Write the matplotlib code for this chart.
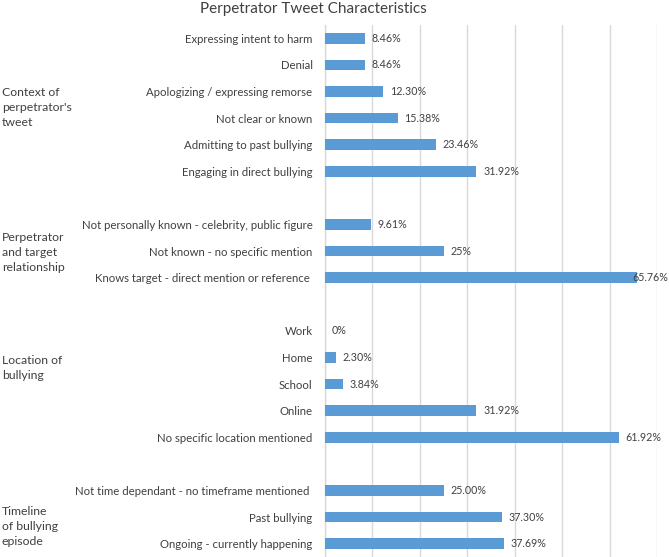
import matplotlib
matplotlib.use("Agg")
import matplotlib.pyplot as plt
import matplotlib.transforms as mtransforms

# ---- data ----
context_labels = ["Expressing intent to harm", "Denial", "Apologizing / expressing remorse",
                  "Not clear or known", "Admitting to past bullying", "Engaging in direct bullying"]
context_values = [8.46, 8.46, 12.30, 15.38, 23.46, 31.92]
context_text = ["8.46%", "8.46%", "12.30%", "15.38%", "23.46%", "31.92%"]

relation_labels = ["Not personally known - celebrity, public figure",
                   "Not known - no specific mention",
                   "Knows target - direct mention or reference "]
relation_values = [9.61, 25.0, 65.76]
relation_text = ["9.61%", "25%", "65.76%"]

location_labels = ["Work", "Home", "School", "Online", "No specific location mentioned"]
location_values = [0.0, 2.30, 3.84, 31.92, 61.92]
location_text = ["0%", "2.30%", "3.84%", "31.92%", "61.92%"]

timeline_labels = ["Not time dependant - no timeframe mentioned ", "Past bullying",
                   "Ongoing - currently happening"]
timeline_values = [25.00, 37.30, 37.69]
timeline_text = ["25.00%", "37.30%", "37.69%"]

group_names = ["Context of\nperpetrator's\ntweet",
               "Perpetrator\nand target\nrelationship",
               "Location of\nbullying",
               "Timeline\nof bullying\nepisode"]

groups = [
    (context_labels, context_values, context_text),
    (relation_labels, relation_values, relation_text),
    (location_labels, location_values, location_text),
    (timeline_labels, timeline_values, timeline_text),
]

BAR_COLOR = "#5B9BD5"
TEXT_COLOR = "#404040"
GRID_COLOR = "#D9D9D9"
FONT = ["Lato", "DejaVu Sans"]

plt.rcParams["font.family"] = FONT

fig = plt.figure(figsize=(6.69, 5.57), dpi=100)
ax = fig.add_axes([325 / 669, 0.0, 332 / 669, 1 - 25 / 557])

# lay rows out with one empty slot between groups
positions, labels, values, texts = [], [], [], []
row = 0
for cats, vals, txts in groups:
    for c, v, t in zip(cats, vals, txts):
        positions.append(row)
        labels.append(c)
        values.append(v)
        texts.append(t)
        row += 1
    row += 1
n_slots = row - 1

ax.barh(positions, values, height=0.4, color=BAR_COLOR, zorder=3)

for p, v, t in zip(positions, values, texts):
    x = v + 1.4
    if v > 64:
        # label runs over the bar end, as in the original
        x = v - 1.0
    ax.text(x, p, t, va="center", ha="left", fontsize=7.7, color=TEXT_COLOR, zorder=4,
            clip_on=False)

ax.set_xlim(0, 70)
ax.set_ylim(n_slots - 0.5, -0.5)
ax.set_xticks(range(0, 71, 10))
ax.set_xticklabels([])
ax.tick_params(axis="x", length=0)
ax.grid(axis="x", color=GRID_COLOR, linewidth=1.0, zorder=0)
ax.set_axisbelow(True)

ax.set_yticks(positions)
ax.set_yticklabels(labels, fontsize=8.2, color=TEXT_COLOR)
ax.tick_params(axis="y", length=0, pad=9)

for side in ["top", "right", "bottom"]:
    ax.spines[side].set_visible(False)
ax.spines["left"].set_color(GRID_COLOR)
ax.spines["left"].set_linewidth(1.0)

# group labels on the far left
group_y = [2.6, 8.05, 12.4, 18.36]
trans = mtransforms.blended_transform_factory(fig.transFigure, ax.transData)
for name, gy in zip(group_names, group_y):
    ax.text(2 / 669, gy, name, transform=trans, ha="left", va="center",
            fontsize=8.8, color=TEXT_COLOR, linespacing=1.45)

fig.text(313 / 669, 1 - 9 / 557, "Perpetrator Tweet Characteristics", ha="center", va="center",
         fontsize=11.0, color=TEXT_COLOR)

fig.savefig("out.png", dpi=100, facecolor="white")
